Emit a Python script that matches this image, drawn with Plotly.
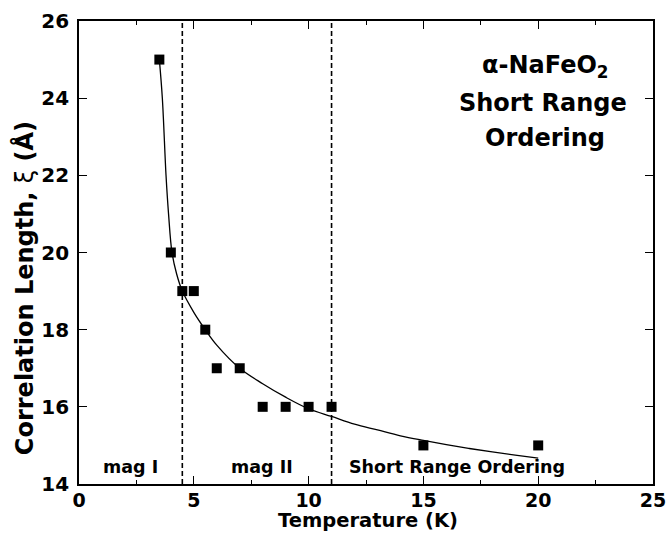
import plotly.graph_objects as go

# Data points (Temperature K, correlation length Å)
temp_k = [3.5, 4, 4.5, 5, 5.5, 6, 7, 8, 9, 10, 11, 15, 20]
xi_a = [25, 20, 19, 19, 18, 17, 17, 16, 16, 16, 16, 15, 15]

# Fit curve
fit_t = [3.5, 3.63, 3.79, 3.9, 4.05, 4.25, 4.5, 5.0, 5.5, 6.0, 7.0, 8.0, 9.0, 10.0,
         11.0, 12.0, 13.0, 14.0, 15.0, 16.0, 17.0, 18.0, 19.0, 20.0]
fit_xi = [25.0, 24.0, 22.0, 21.0, 20.0, 19.45, 19.0, 18.45, 18.0, 17.6, 17.0, 16.6,
          16.25, 15.95, 15.75, 15.55, 15.4, 15.25, 15.13, 15.02, 14.92, 14.83, 14.75, 14.67]

# Phase boundaries
boundaries = [4.5, 11]

x_ticks = [0, 5, 10, 15, 20, 25]
x_minor = [2.5, 7.5, 12.5, 17.5, 22.5]
y_ticks = [14, 16, 18, 20, 22, 24, 26]

title_lines = ["α-NaFeO<sub>2</sub>", "Short Range", "Ordering"]
region_labels = ["mag I", "mag II", "Short Range Ordering"]
x_title = "Temperature (K)"
y_title = "Correlation Length, <span style='font-weight:normal'>ξ</span> (Å)"

FONT = "DejaVu Sans, Liberation Sans, sans-serif"

fig = go.Figure()
fig.add_trace(go.Scatter(x=fit_t, y=fit_xi, mode="lines",
                         line=dict(color="black", width=1.3, shape="spline"),
                         showlegend=False, hoverinfo="skip"))
fig.add_trace(go.Scatter(x=temp_k, y=xi_a, mode="markers",
                         marker=dict(symbol="square", size=10, color="black"),
                         showlegend=False))

for b in boundaries:
    fig.add_shape(type="line", x0=b, x1=b, y0=0, y1=1, xref="x", yref="paper",
                  line=dict(color="black", width=1.6, dash="5px,3px"))

ann_font = dict(family=FONT, size=24, color="black", weight="bold")
for t, x, y in zip(title_lines, [20.3, 20.2, 20.3], [24.83, 23.87, 22.96]):
    fig.add_annotation(x=x, y=y, xref="x", yref="y", text=t, showarrow=False,
                       font=ann_font, xanchor="center", yanchor="middle")

lab_font = dict(family=FONT, size=17.5, color="black", weight="bold")
for t, x in zip(region_labels, [2.24, 7.97, 16.48]):
    fig.add_annotation(x=x, y=14.43, xref="x", yref="y", text=t, showarrow=False,
                       font=lab_font, xanchor="center", yanchor="middle")

# axis titles as annotations (positioned like the reference)
fig.add_annotation(x=0.5035, y=-0.078, xref="paper", yref="paper", text=x_title,
                   showarrow=False, xanchor="center", yanchor="middle",
                   font=dict(family=FONT, size=19.5, color="black", weight="bold"))
fig.add_annotation(x=-0.0958, y=0.423, xref="paper", yref="paper", text=y_title,
                   showarrow=False, xanchor="center", yanchor="middle", textangle=-90,
                   font=dict(family=FONT, size=24, color="black", weight="bold"))

axis_common = dict(showline=True, linecolor="black", linewidth=1.6, mirror="ticks",
                   ticks="inside", tickcolor="black", tickwidth=1.4, ticklen=8,
                   showgrid=False, zeroline=False, automargin=False,
                   ticklabeloverflow="allow")

fig.update_xaxes(range=[0, 25], tickvals=x_ticks, ticklabelstandoff=-2,
                 tickfont=dict(family=FONT, size=19, color="black", weight="bold"),
                 minor=dict(tickvals=x_minor, ticks="inside",
                            ticklen=4, tickwidth=1.4, tickcolor="black"),
                 **axis_common)
fig.update_yaxes(range=[14, 26], tickvals=y_ticks, ticklabelstandoff=4,
                 tickfont=dict(family=FONT, size=20, color="black", weight="bold"),
                 **axis_common)

fig.update_layout(width=668, height=543, margin=dict(l=79, r=15, t=21, b=59),
                  plot_bgcolor="white", paper_bgcolor="white",
                  font=dict(family=FONT, color="black"))

# remove the default page margin so the figure fills the 668x543 window exactly
fig.write_html("out.html", config={"displayModeBar": False},
               post_script="document.body.style.margin='0px';"
                           "document.body.style.overflow='hidden';")
